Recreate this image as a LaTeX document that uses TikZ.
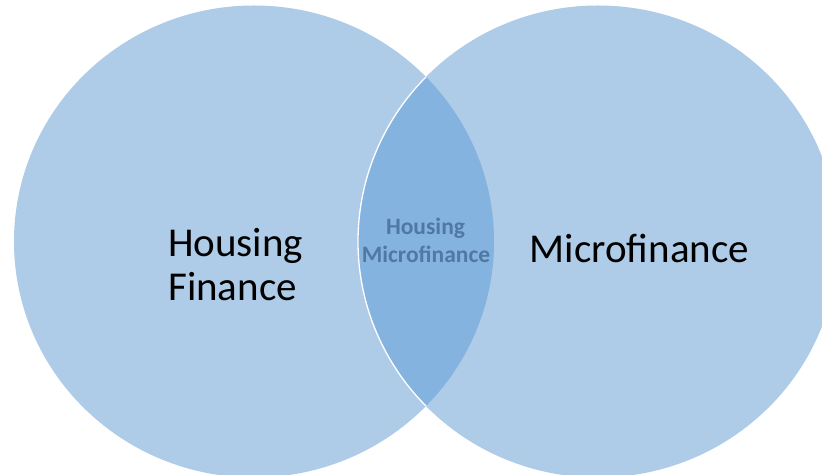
\documentclass[tikz,border=0pt]{standalone}
\usepackage{fontspec}
\setmainfont{Carlito}
\definecolor{vlight}{HTML}{AECBE8}
\definecolor{vdark}{HTML}{85B3DF}
\definecolor{vtext}{HTML}{5078A4}
\tikzset{
  big/.style={font=\fontsize{41}{44}\selectfont, inner sep=0pt, text=black},
  small/.style={font=\fontsize{23.5}{28}\selectfont\bfseries, inner sep=0pt, text=vtext}
}
\begin{document}
\begin{tikzpicture}[x=1pt,y=1pt]
\useasboundingbox (0,0) rectangle (822,474);
\fill[white] (0,0) rectangle (822,474);
\begin{scope}
  \clip (0,0) rectangle (822,474);
  \fill[vlight] (254,232.5) ellipse [x radius=240, y radius=236];
  \fill[vlight] (598,232.5) ellipse [x radius=240, y radius=236];
  \begin{scope}
    \clip (254,232.5) ellipse [x radius=240, y radius=236];
    \fill[vdark] (598,232.5) ellipse [x radius=240, y radius=236];
    \draw[white, line width=1.3pt] (598,232.5) ellipse [x radius=240, y radius=236];
  \end{scope}
\end{scope}
\node[big, anchor=base west] (hf1) at (168,217.3) {Housing};
\node[big, anchor=base west] (hf2) at (168,173.3) {Finance};
\node[big, anchor=base] (mf) at (639.5,211) {Microfinance};
\node[small, anchor=base] (hm1) at (425.5,239) {Housing};
\node[small, anchor=base] (hm2) at (426,211) {Microfinance};
\end{tikzpicture}
\end{document}
